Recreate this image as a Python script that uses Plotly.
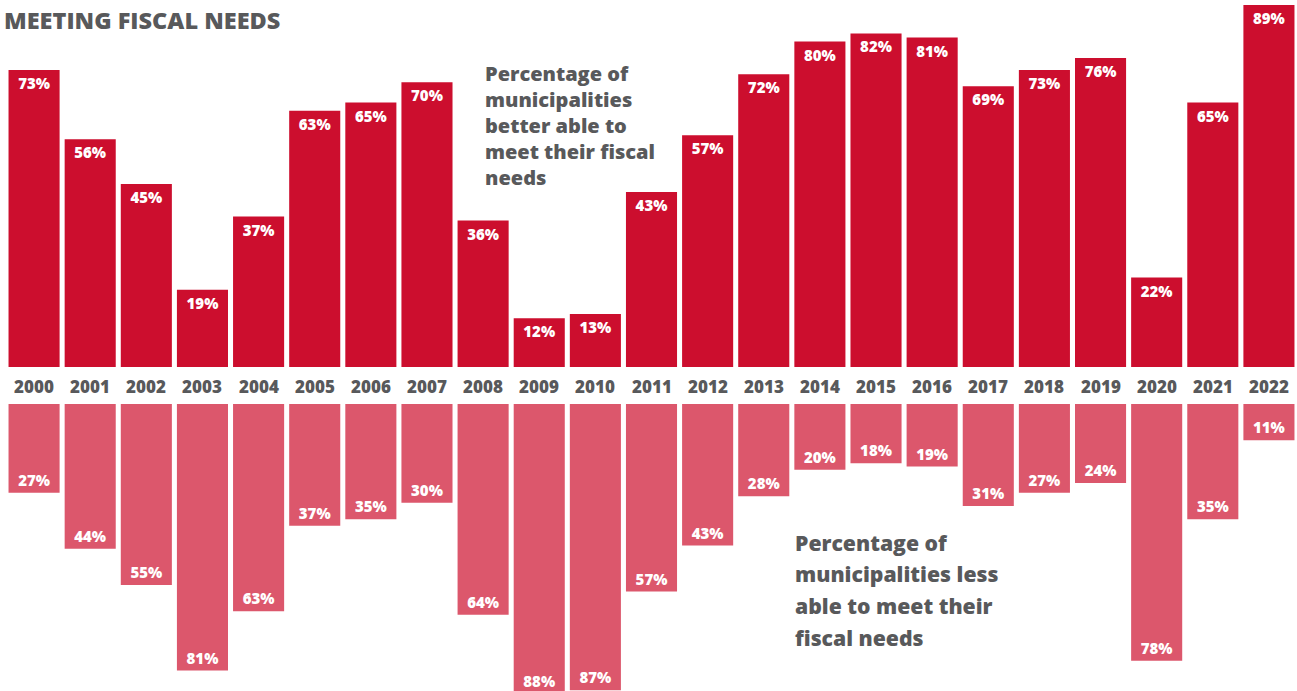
import plotly.graph_objects as go

years = [str(y) for y in range(2000, 2023)]
better = [73, 56, 45, 19, 37, 63, 65, 70, 36, 12, 13, 43, 57, 72, 80, 82, 81, 69, 73, 76, 22, 65, 89]
less = [27, 44, 55, 81, 63, 37, 35, 30, 64, 88, 87, 57, 43, 28, 20, 18, 19, 31, 27, 24, 78, 35, 11]

W, H = 1297, 691
GRAY = "#58595B"
DARK = "#CC0E2E"
LIGHT = "#DC576C"
FONT = "Open Sans"
WT = 800

def px(x):
    return x / W

def py(y):
    return 1 - y / H

fig = go.Figure()
fig.add_trace(go.Bar(
    x=years, y=better, xaxis="x", yaxis="y", marker_color=DARK, marker_line_width=0,
    text=[f"{v}%" for v in better], textposition="inside", insidetextanchor="end",
    textfont=dict(family=FONT, size=15, color="white", weight=WT),
    constraintext="none", hoverinfo="skip"))
fig.add_trace(go.Bar(
    x=years, y=less, xaxis="x2", yaxis="y2", marker_color=LIGHT, marker_line_width=0,
    text=[f"{v}%" for v in less], textposition="inside", insidetextanchor="end",
    textfont=dict(family=FONT, size=15, color="white", weight=WT),
    constraintext="none", hoverinfo="skip"))

xdom = [6 / W, 1]
xr = [-0.5, len(years) - 0.5]
fig.update_layout(
    width=W, height=H, margin=dict(l=0, r=0, t=0, b=0, autoexpand=False),
    plot_bgcolor="white", paper_bgcolor="white", showlegend=False,
    bargap=0.09,
    xaxis=dict(domain=xdom, anchor="y", type="category", range=xr, showticklabels=False,
               showgrid=False, zeroline=False, showline=False, ticks=""),
    xaxis2=dict(domain=xdom, anchor="y2", type="category", range=xr, showticklabels=False,
                showgrid=False, zeroline=False, showline=False, ticks=""),
    yaxis=dict(domain=[py(367), py(5)], range=[0, 89], visible=False),
    yaxis2=dict(domain=[0, py(404)], range=[87.2, 0], visible=False),
)

anns = []
anns.append(dict(text="MEETING FISCAL NEEDS", x=px(2), y=py(20), xref="paper", yref="paper",
                 xanchor="left", yanchor="middle", showarrow=False,
                 font=dict(family=FONT, size=23.5, color=GRAY, weight=WT)))
for i, yr in enumerate(years):
    anns.append(dict(text=yr, x=i, y=py(386), xref="x", yref="paper", xanchor="center",
                     yanchor="middle", showarrow=False,
                     font=dict(family=FONT, size=17, color=GRAY, weight=WT)))

top_lines = ["Percentage of", "municipalities", "better able to", "meet their fiscal", "needs"]
anns.append(dict(text="<br>".join(top_lines), x=px(483), y=py(125), xref="paper", yref="paper",
                 xanchor="left", yanchor="middle", align="left", showarrow=False,
                 font=dict(family=FONT, size=20, color=GRAY, weight=WT)))
bot_lines = ["Percentage of", "municipalities less", "able to meet their", "fiscal needs"]
for i, t in enumerate(bot_lines):
    anns.append(dict(text=t, x=px(793), y=py(542 + 31.7 * i), xref="paper", yref="paper",
                     xanchor="left", yanchor="middle", showarrow=False,
                     font=dict(family=FONT, size=21.2, color=GRAY, weight=WT)))
fig.update_layout(annotations=anns)

fig.write_html("out.html", config={"displayModeBar": False},
               post_script="document.body.style.margin='0';document.body.style.overflow='hidden';")
